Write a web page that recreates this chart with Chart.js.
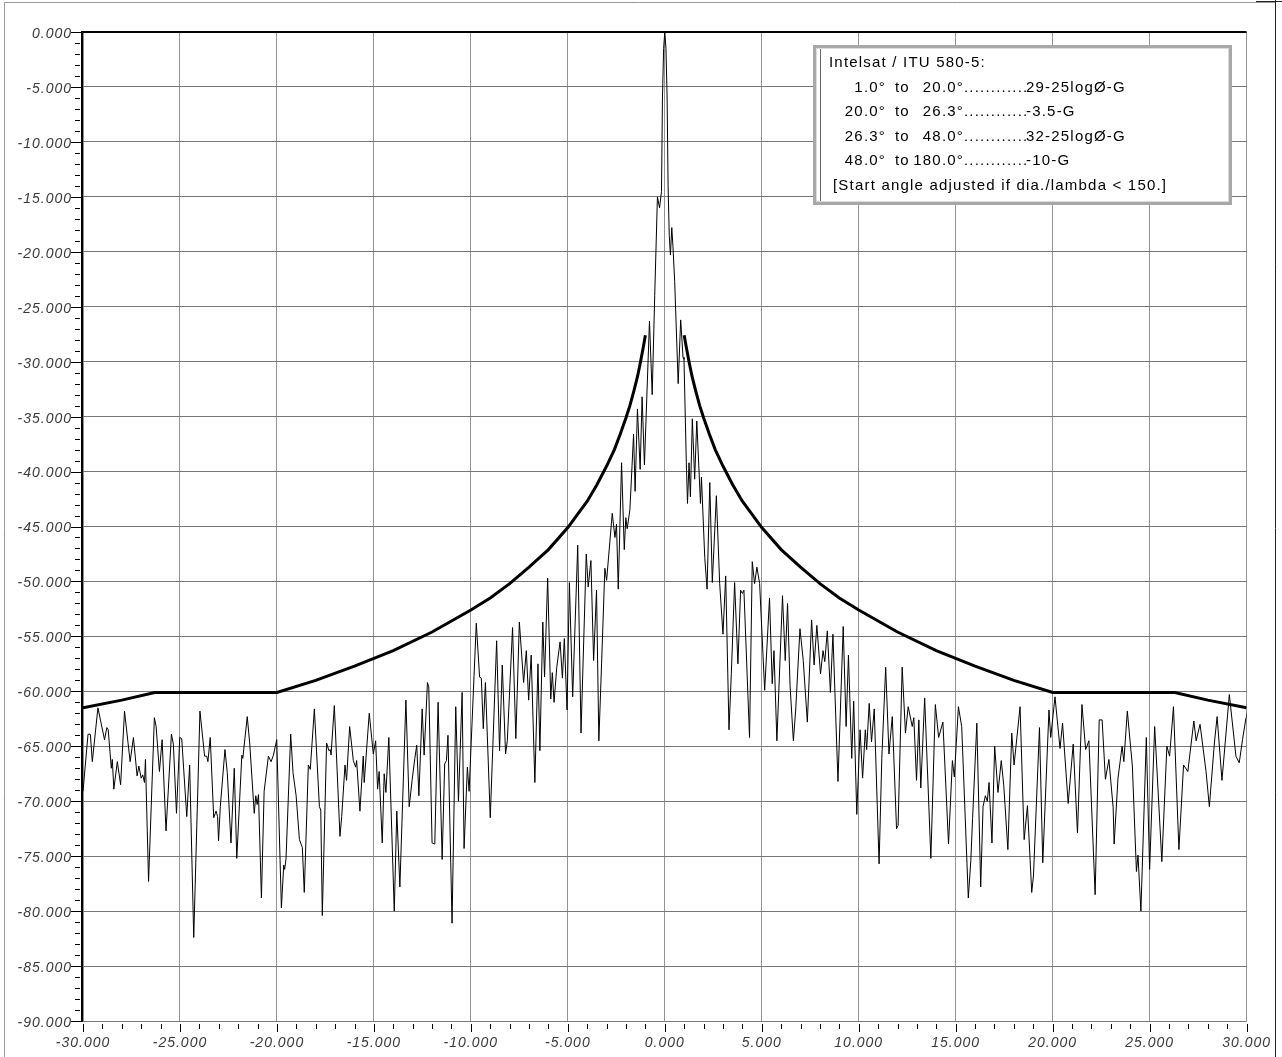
<!DOCTYPE html>
<html>
<head>
<meta charset="utf-8">
<title>Antenna pattern vs Intelsat / ITU 580-5 mask</title>
<script src="https://cdn.jsdelivr.net/npm/chart.js@4.4.1/dist/chart.umd.min.js"></script>
<style>
  html, body { margin: 0; padding: 0; background: #fff; }
  #wrap { width: 1282px; height: 1057px; }
</style>
</head>
<body>
<div id="wrap"><canvas id="patternChart" width="1282" height="1057"></canvas></div>
<script>
"use strict";

// ---- axis ranges ----
const angleMin = -30, angleMax = 30, angleStep = 5;
const gainMin = -90, gainMax = 0, gainStep = 5;

// ---- measured pattern (deg, dB) ----
const patternAngles = [
  -30.00,-29.74,-29.62,-29.52,-29.23,-28.89,-28.77,-28.70,-28.54,-28.49,
  -28.41,-28.23,-28.06,-27.86,-27.57,-27.40,-27.21,-27.12,-27.00,-26.92,
  -26.83,-26.78,-26.62,-26.32,-26.23,-26.06,-25.92,-25.72,-25.44,-25.34,
  -25.18,-25.01,-24.91,-24.65,-24.50,-24.29,-23.97,-23.73,-23.62,-23.56,
  -23.44,-23.26,-23.14,-23.06,-23.01,-22.92,-22.68,-22.56,-22.37,-22.20,
  -22.07,-21.81,-21.76,-21.53,-21.40,-21.17,-21.09,-21.02,-20.95,-20.80,
  -20.66,-20.44,-20.30,-20.18,-20.01,-19.77,-19.65,-19.60,-19.53,-19.29,
  -19.17,-19.01,-18.84,-18.69,-18.59,-18.38,-18.28,-18.07,-17.81,-17.74,
  -17.66,-17.44,-17.32,-17.25,-17.21,-17.04,-16.75,-16.66,-16.49,-16.41,
  -16.25,-16.06,-15.94,-15.89,-15.72,-15.55,-15.50,-15.24,-15.03,-14.91,
  -14.81,-14.73,-14.57,-14.47,-14.38,-14.23,-13.95,-13.82,-13.66,-13.35,
  -13.18,-13.03,-12.89,-12.79,-12.68,-12.51,-12.41,-12.24,-12.17,-12.00,
  -11.86,-11.69,-11.48,-11.35,-11.26,-11.18,-10.97,-10.78,-10.64,-10.45,
  -10.35,-10.18,-10.09,-9.72,-9.55,-9.46,-9.36,-9.25,-9.00,-8.67,
  -8.52,-8.38,-8.21,-8.12,-7.85,-7.68,-7.50,-7.28,-7.14,-7.02,
  -6.89,-6.70,-6.54,-6.44,-6.29,-6.20,-6.04,-5.88,-5.80,-5.71,
  -5.57,-5.40,-5.28,-5.18,-5.04,-4.92,-4.75,-4.49,-4.32,-4.05,
  -3.95,-3.81,-3.67,-3.52,-3.40,-3.26,-3.09,-3.00,-2.71,-2.57,
  -2.49,-2.40,-2.23,-2.09,-2.01,-1.94,-1.80,-1.61,-1.53,-1.41,
  -1.27,-1.17,-1.05,-0.79,-0.65,-0.52,-0.38,-0.27,-0.17,-0.12,
  -0.06,0.00,0.06,0.12,0.17,0.23,0.29,0.36,0.42,0.51,
  0.69,0.82,0.94,0.99,1.11,1.17,1.25,1.32,1.42,1.54,
  1.65,1.84,1.89,2.06,2.18,2.32,2.45,2.66,2.83,3.00,
  3.14,3.31,3.43,3.60,3.77,3.91,4.00,4.08,4.37,4.51,
  4.63,4.75,4.89,5.15,5.40,5.54,5.63,5.78,6.07,6.21,
  6.33,6.46,6.63,6.75,6.97,7.14,7.35,7.57,7.70,7.84,
  8.03,8.16,8.25,8.38,8.54,8.67,8.93,9.20,9.35,9.47,
  9.64,9.74,9.90,10.07,10.20,10.34,10.41,10.54,10.66,10.80,
  11.05,11.19,11.39,11.56,11.73,11.95,12.03,12.24,12.41,12.55,
  12.76,12.84,12.98,13.10,13.20,13.40,13.72,13.95,14.12,14.34,
  14.63,14.83,14.93,15.14,15.31,15.65,15.78,15.87,16.09,16.29,
  16.41,16.53,16.63,16.72,16.87,17.01,17.18,17.35,17.48,17.69,
  17.89,18.01,18.32,18.53,18.70,18.92,19.01,19.32,19.49,19.81,
  19.90,20.12,20.38,20.51,20.80,21.06,21.28,21.51,21.70,21.87,
  22.19,22.40,22.55,22.72,22.90,23.12,23.17,23.37,23.58,23.67,
  23.85,24.11,24.32,24.40,24.55,24.83,25.00,25.26,25.63,25.89,
  26.03,26.23,26.51,26.75,26.97,27.28,27.40,27.60,27.91,28.08,
  28.34,28.48,28.73,29.11,29.45,29.62,29.79,29.97,30.00
];
const patternGain = [
  -69.1,-63.9,-63.9,-66.4,-61.5,-64.4,-63.3,-63.5,-67.0,-66.2,
  -68.9,-66.4,-68.5,-61.8,-66.4,-64.2,-67.7,-66.8,-67.9,-67.6,
  -68.3,-66.2,-77.3,-62.4,-63.2,-67.3,-64.4,-72.7,-63.9,-64.8,
  -71.1,-64.2,-64.3,-71.4,-66.7,-82.4,-61.8,-65.9,-65.9,-66.4,
  -64.2,-71.5,-70.9,-71.4,-73.6,-70.5,-65.3,-67.4,-73.8,-67.0,
  -75.2,-65.8,-66.1,-62.3,-64.8,-71.1,-69.5,-70.3,-69.4,-78.8,
  -69.1,-65.9,-66.4,-65.8,-64.4,-79.7,-75.8,-76.2,-75.2,-63.9,
  -67.4,-69.5,-73.5,-74.2,-78.3,-66.7,-67.1,-61.6,-70.5,-70.8,
  -80.4,-64.7,-65.4,-65.3,-65.8,-61.3,-73.2,-71.4,-66.7,-68.1,
  -63.2,-66.3,-66.9,-66.3,-70.9,-65.9,-68.3,-62.0,-65.7,-64.5,
  -68.9,-67.3,-73.8,-67.5,-69.2,-64.2,-80.0,-70.9,-77.8,-60.8,
  -70.5,-68.1,-66.1,-64.9,-69.5,-61.6,-65.8,-59.2,-59.6,-73.8,
  -73.9,-61.0,-75.3,-66.6,-66.3,-64.0,-81.1,-61.4,-70.0,-60.1,
  -74.3,-66.9,-69.1,-53.8,-58.7,-58.8,-63.4,-59.2,-71.5,-55.4,
  -65.4,-57.6,-65.7,-64.5,-54.2,-64.3,-53.7,-59.2,-56.3,-60.8,
  -56.7,-68.3,-57.5,-65.4,-53.7,-58.7,-49.7,-60.7,-58.3,-61.0,
  -57.8,-55.5,-58.8,-55.2,-61.7,-50.1,-60.5,-46.7,-63.8,-47.5,
  -50.5,-48.1,-57.2,-50.8,-64.5,-57.5,-48.8,-49.9,-43.8,-46.0,
  -44.8,-50.7,-39.2,-47.1,-44.2,-45.2,-43.5,-36.6,-41.8,-34.3,
  -39.8,-33.2,-39.4,-26.3,-33.0,-24.0,-15.0,-16.0,-14.5,-6.0,
  -1.5,0.0,-1.5,-6.0,-14.0,-18.5,-20.3,-17.8,-19.5,-22.7,
  -32.0,-26.2,-29.6,-29.8,-39.2,-42.9,-39.2,-42.3,-35.2,-40.7,
  -35.4,-42.9,-40.5,-47.8,-50.7,-41.0,-50.1,-42.2,-50.2,-54.8,
  -49.5,-63.5,-58.4,-50.1,-57.5,-50.8,-51.1,-50.8,-64.2,-48.2,
  -50.2,-48.7,-50.2,-59.9,-51.5,-59.3,-56.3,-64.5,-51.3,-57.2,
  -52.0,-59.5,-64.5,-61.7,-54.3,-57.2,-62.8,-53.5,-57.6,-54.0,
  -58.4,-56.3,-57.3,-54.5,-60.1,-54.8,-68.2,-54.1,-63.2,-56.7,
  -66.1,-60.9,-71.2,-63.5,-67.9,-63.5,-65.3,-61.1,-64.6,-61.6,
  -75.7,-66.1,-57.8,-65.7,-62.3,-72.5,-72.2,-57.8,-63.8,-61.4,
  -63.2,-62.4,-68.1,-62.6,-68.8,-60.6,-75.2,-61.2,-64.2,-62.8,
  -73.9,-66.3,-67.8,-61.4,-63.2,-78.8,-75.4,-71.6,-62.9,-77.8,
  -70.5,-69.5,-70.0,-68.3,-73.8,-65.0,-69.2,-66.3,-68.6,-74.4,
  -63.8,-66.7,-61.4,-73.5,-70.4,-78.3,-76.8,-63.3,-75.6,-61.7,
  -64.2,-60.5,-65.2,-62.9,-70.2,-64.8,-72.9,-61.2,-65.3,-64.5,
  -78.5,-62.6,-62.6,-68.0,-66.2,-70.6,-73.9,-67.9,-65.0,-66.4,
  -61.8,-66.8,-76.4,-74.9,-80.0,-64.2,-76.2,-63.2,-75.5,-65.0,
  -65.9,-61.4,-74.4,-66.7,-67.3,-62.7,-64.5,-63.0,-67.3,-70.5,
  -64.7,-62.3,-68.1,-60.3,-65.9,-66.5,-64.4,-62.4,-62.0
];

// ---- Intelsat / ITU 580-5 mask (deg, dB), gap inside +/-1 deg ----
const maskAngles = [
  -30, -28, -26.3, -20, -18, -16, -14, -12, -10, -9,
  -8, -7, -6, -5, -4.5, -4, -3.5, -3, -2.6, -2.3,
  -2, -1.8, -1.6, -1.4, -1.25, -1.1, -1, 0, 1, 1.1,
  1.25, 1.4, 1.6, 1.8, 2, 2.3, 2.6, 3, 3.5, 4,
  4.5, 5, 6, 7, 8, 9, 10, 12, 14, 16,
  18, 20, 26.3, 28, 30
];
const maskGain = [
  -61.5, -60.8, -60.1, -60.1, -59.0, -57.7, -56.3, -54.6, -52.6, -51.5,
  -50.2, -48.7, -47.1, -45.1, -43.9, -42.7, -41.2, -39.5, -38.0, -36.6,
  -35.1, -34.0, -32.7, -31.3, -30.0, -28.6, -27.6, null, -27.6, -28.6,
  -30.0, -31.3, -32.7, -34.0, -35.1, -36.6, -38.0, -39.5, -41.2, -42.7,
  -43.9, -45.1, -47.1, -48.7, -50.2, -51.5, -52.6, -54.6, -56.3, -57.7,
  -59.0, -60.1, -60.1, -60.8, -61.5
];

// ---- legend box text ----
const legendTitle = 'Intelsat / ITU 580-5:';
const ruleFrom = ['1.0°', '20.0°', '26.3°', '48.0°'];
const ruleTo = ['20.0°', '26.3°', '48.0°', '180.0°'];
const ruleText = ['29-25logØ-G', '-3.5-G', '32-25logØ-G', '-10-G'];
const legendNote = '[Start angle adjusted if dia./lambda < 150.]';

const tickFont = { family: '"Liberation Sans", Arial, sans-serif', size: 14, style: 'oblique' };

function toPoints(xs, ys) {
    return xs.map((x, i) => ({ x: x, y: ys[i] }));
}

function drawLegendBox(ctx) {
    const bx = 813, by = 45, bw = 419, bh = 160;
    ctx.fillStyle = '#fff';
    ctx.fillRect(bx, by, bw, bh);
    ctx.strokeStyle = '#a8a8a8';
    ctx.lineWidth = 3;
    ctx.strokeRect(bx + 1.5, by + 1.5, bw - 3, bh - 3);
    ctx.lineWidth = 1;
    ctx.strokeStyle = '#dcdcdc';
    ctx.strokeRect(bx + 3.5, by + 3.5, bw - 7, bh - 7);
    ctx.strokeStyle = '#666';
    ctx.beginPath();
    ctx.moveTo(bx + 7.5, by + 4);
    ctx.lineTo(bx + 7.5, by + bh - 4);
    ctx.stroke();

    ctx.font = '15px "Liberation Sans", Arial, sans-serif';
    ctx.letterSpacing = '1.2px';
    ctx.fillStyle = '#000';
    ctx.textBaseline = 'alphabetic';
    ctx.textAlign = 'left';
    ctx.fillText(legendTitle, 829, 67);

    const rowGap = 24.6;
    const dotsFrom = 964, ruleX = 1026;
    ruleFrom.forEach((from, i) => {
        const yy = 91.6 + i * rowGap;
        ctx.textAlign = 'right';
        ctx.fillText(from, 886, yy);
        ctx.fillText(ruleTo[i], dotsFrom, yy);
        ctx.textAlign = 'left';
        ctx.fillText('to', 895, yy);
        let dots = '';
        while (ctx.measureText(dots + '.').width <= ruleX - dotsFrom + 4) dots += '.';
        ctx.fillText(dots, dotsFrom, yy);
        ctx.fillText(ruleText[i], ruleX, yy);
    });
    ctx.fillText(legendNote, 833, 91.6 + 4 * rowGap);
}

const framePlugin = {
    id: 'framePlugin',
    beforeDraw(chart) {
        chart.ctx.letterSpacing = '1px';
    },
    afterDraw(chart) {
        const { ctx, chartArea: a, scales: { x, y } } = chart;
        ctx.save();

        // tick marks, major every 5, minor every 1
        ctx.strokeStyle = '#000';
        ctx.lineWidth = 1;
        ctx.beginPath();
        for (let v = gainMin; v <= gainMax; v++) {
            const py = Math.round(y.getPixelForValue(v)) + 0.5;
            const major = v % gainStep === 0;
            ctx.moveTo(a.left - (major ? 12 : 8), py);
            ctx.lineTo(a.left - (major ? 0 : 3), py);
        }
        for (let v = angleMin; v <= angleMax; v++) {
            const px = Math.round(x.getPixelForValue(v)) + 0.5;
            const major = v % angleStep === 0;
            ctx.moveTo(px, a.bottom + 3);
            ctx.lineTo(px, a.bottom + (major ? 11 : 8));
        }
        ctx.stroke();

        // dark top and left plot edges
        ctx.lineWidth = 2;
        ctx.beginPath();
        ctx.moveTo(a.left - 1, a.bottom);
        ctx.lineTo(a.left - 1, a.top);
        ctx.lineTo(a.right, a.top);
        ctx.stroke();

        drawLegendBox(ctx);

        // window frame
        ctx.letterSpacing = '0px';
        ctx.fillStyle = '#fff';
        ctx.fillRect(1275, 0, 7, chart.height);
        ctx.lineWidth = 1;
        ctx.strokeStyle = '#9a9a9a';
        ctx.beginPath();
        ctx.moveTo(4.5, chart.height);
        ctx.lineTo(4.5, 2.5);
        ctx.lineTo(1275, 2.5);
        ctx.stroke();
        ctx.strokeStyle = '#222';
        ctx.beginPath();
        ctx.moveTo(1275.5, 0);
        ctx.lineTo(1275.5, chart.height);
        ctx.moveTo(1256, 1.5);
        ctx.lineTo(1282, 1.5);
        ctx.stroke();
        ctx.restore();
    }
};

document.addEventListener('DOMContentLoaded', function() {
    const ctx = document.getElementById('patternChart');
    new Chart(ctx, {
        type: 'line',
        data: {
            datasets: [{
                label: 'Measured pattern',
                data: toPoints(patternAngles, patternGain),
                borderColor: '#000',
                borderWidth: 1,
                pointRadius: 0,
                tension: 0
            }, {
                label: 'Intelsat / ITU 580-5 mask',
                data: toPoints(maskAngles, maskGain),
                borderColor: '#000',
                borderWidth: 3,
                pointRadius: 0,
                tension: 0,
                spanGaps: false
            }]
        },
        options: {
            responsive: false,
            animation: false,
            devicePixelRatio: 1,
            layout: { padding: { top: 32, right: 32, bottom: 0, left: 0 } },
            plugins: {
                legend: { display: false },
                tooltip: { enabled: false }
            },
            scales: {
                x: {
                    type: 'linear',
                    position: 'bottom',
                    min: angleMin,
                    max: angleMax,
                    afterFit: function(scale) { scale.height = 36; },
                    border: { display: false },
                    grid: { color: '#939393', lineWidth: 1, drawTicks: false },
                    ticks: {
                        stepSize: angleStep,
                        autoSkip: false,
                        maxRotation: 0,
                        padding: 14,
                        color: '#3a3a3a',
                        font: tickFont,
                        callback: function(value) { return Number(value).toFixed(3); }
                    }
                },
                y: {
                    min: gainMin,
                    max: gainMax,
                    afterFit: function(scale) { scale.width = 83; },
                    border: { display: false },
                    grid: { color: '#767676', lineWidth: 1, drawTicks: false },
                    ticks: {
                        stepSize: gainStep,
                        autoSkip: false,
                        padding: 11,
                        labelOffset: 2,
                        color: '#3a3a3a',
                        font: tickFont,
                        callback: function(value) { return Number(value).toFixed(3); }
                    }
                }
            }
        },
        plugins: [framePlugin]
    });
});
</script>
</body>
</html>
